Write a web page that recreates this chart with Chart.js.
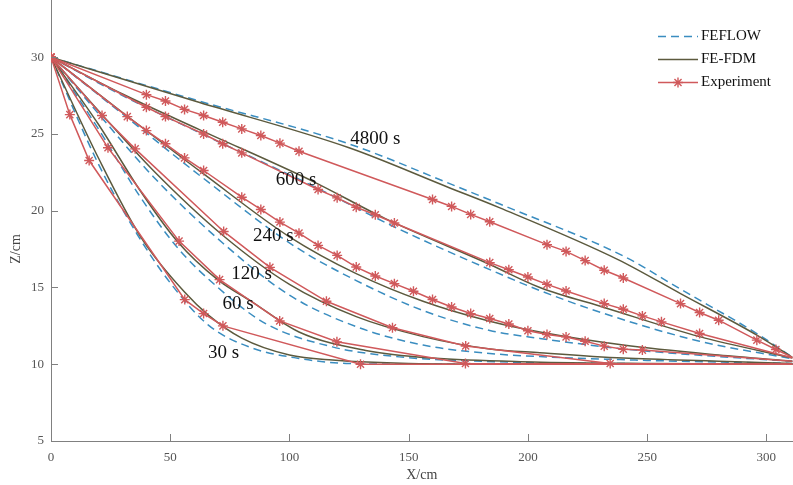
<!DOCTYPE html>
<html>
<head>
<meta charset="utf-8">
<script src="https://cdn.jsdelivr.net/npm/chart.js@4.4.1/dist/chart.umd.min.js"></script>
<style>
    body { margin: 0; background: #fff; overflow: hidden; }
    /* the box is 6px larger than the window so the plot reaches the top and right edges */
    .chart-box { width: 799px; height: 491px; position: relative; margin-top: -6px; }
</style>
</head>
<body>
<div class="chart-box"><canvas id="profileChart"></canvas></div>
<script>
// Time steps
const times = ['30 s', '60 s', '120 s', '240 s', '600 s', '4800 s'];

// Axis ticks
const xTicks = [0, 50, 100, 150, 200, 250, 300];
const zTicks = [5, 10, 15, 20, 25, 30];

// FE-FDM curves, [x, z]
const fdm30 = [[0, 30], [20, 23.4], [38, 18.2], [56, 14.7], [66, 13.2], [80, 11.7], [100, 10.6], [118, 10.27], [150, 10.05], [200, 10.0], [311, 10.0]];
const fdm60 = [[0, 30], [20, 25.6], [37, 21.4], [53, 18.0], [70, 15.5], [84, 14.1], [104, 12.1], [132, 10.9], [160, 10.4], [202, 10.15], [250, 10.05], [311, 10.0]];
const fdm120 = [[0, 30], [20, 26.5], [43, 22.6], [72, 18.4], [100, 15.2], [128, 13.1], [156, 11.8], [184, 11.0], [205, 10.75], [240, 10.4], [280, 10.2], [311, 10.05]];
const fdm240 = [[0, 30], [30, 26.4], [64, 22.4], [100, 18.3], [128, 15.9], [156, 14.1], [184, 12.8], [205, 12.1], [240, 11.25], [280, 10.6], [311, 10.2]];
const fdm600 = [[0, 30], [30, 27.6], [62, 25.3], [110, 21.9], [140, 19.5], [184, 16.5], [205, 15.0], [232, 13.7], [272, 11.8], [311, 10.4]];
const fdm4800 = [[0, 30], [62, 27.06], [125, 24.1], [167, 21.5], [188, 20.2], [238, 16.8], [264, 14.6], [296, 11.9], [311, 10.45]];

// FEFLOW curves, [x, z]
const feflow30 = [[0, 30], [20, 23.0], [36, 18.5], [50, 15.3], [66, 12.55], [83, 11.13], [104, 10.38], [125, 10.05], [160, 10.0], [311, 10.0]];
const feflow60 = [[0, 30], [20, 25.3], [37, 21.0], [53, 17.6], [70, 15.0], [90, 12.65], [118, 11.13], [146, 10.48], [188, 10.16], [250, 10.03], [311, 10.0]];
const feflow120 = [[0, 30], [20, 26.3], [43, 22.2], [72, 17.9], [100, 14.5], [128, 12.45], [156, 11.25], [184, 10.7], [205, 10.5], [250, 10.25], [311, 10.05]];
const feflow240 = [[0, 30], [30, 26.3], [64, 22.1], [102, 17.7], [128, 15.45], [156, 13.5], [184, 12.2], [205, 11.68], [240, 11.0], [280, 10.5], [311, 10.2]];
const feflow600 = [[0, 30], [30, 27.5], [62, 25.1], [110, 21.6], [146, 18.8], [191, 15.7], [205, 14.8], [232, 13.3], [272, 11.5], [311, 10.35]];
const feflow4800 = [[0, 30], [62, 27.15], [125, 24.35], [169, 21.65], [188, 20.45], [240, 17.05], [265, 14.8], [296, 12.0], [311, 10.45]];

// Experiment points, [x, z]
const exp30 = [[0, 30], [7.9, 26.26], [16, 23.27], [56.1, 14.21], [64, 13.3], [72.1, 12.5], [129.8, 10.0], [311, 10.0]];
const exp60 = [[0, 30], [23.9, 24.1], [53.7, 18.02], [70.7, 15.51], [95.9, 12.82], [119.9, 11.46], [173.8, 10.05], [311, 10.0]];
const exp120 = [[0, 30], [21.4, 26.2], [35.3, 24.03], [72.4, 18.65], [91.8, 16.31], [115.5, 14.1], [143.2, 12.38], [173.9, 11.19], [234.5, 10.05], [311, 10.0]];
const exp240 = [[0, 30], [32, 26.13], [40, 25.22], [48, 24.36], [56, 23.44], [64, 22.62], [80, 20.88], [88, 20.08], [96, 19.26], [104, 18.54],
    [112, 17.74], [120, 17.09], [128, 16.33], [136, 15.75], [144, 15.25], [152, 14.75], [160, 14.22], [168, 13.73], [176, 13.3], [184, 12.98],
    [192, 12.62], [200, 12.18], [208, 11.94], [216, 11.78], [224, 11.5], [232, 11.18], [240, 10.98], [248, 10.92], [311, 10.2]];
const exp600 = [[0, 30], [40, 26.74], [48, 26.13], [64, 25.0], [72, 24.36], [80, 23.77], [112, 21.38], [120, 20.84], [128, 20.23], [136, 19.74],
    [144, 19.2], [184, 16.62], [192, 16.16], [200, 15.68], [208, 15.2], [216, 14.77], [232, 13.95], [240, 13.58], [248, 13.15], [256, 12.76],
    [272, 12.0], [311, 10.4]];
const exp4800 = [[0, 30], [40, 27.56], [48, 27.15], [56, 26.6], [64, 26.2], [72, 25.76], [80, 25.33], [88, 24.9], [96, 24.4], [104, 23.87],
    [160, 20.73], [168, 20.28], [176, 19.76], [184, 19.28], [208, 17.79], [216, 17.35], [224, 16.75], [232, 16.12], [240, 15.62],
    [264, 13.95], [272, 13.37], [280, 12.87], [296, 11.57], [304, 10.96], [311, 10.45]];

const fdmSets = [fdm30, fdm60, fdm120, fdm240, fdm600, fdm4800];
const feflowSets = [feflow30, feflow60, feflow120, feflow240, feflow600, feflow4800];
const expSets = [exp30, exp60, exp120, exp240, exp600, exp4800];

// Where the time labels sit (left edge x, middle z)
const labelAt = {
    '30 s': [65.8, 10.74],
    '60 s': [71.9, 13.94],
    '120 s': [75.6, 15.9],
    '240 s': [84.7, 18.33],
    '600 s': [94.2, 21.97],
    '4800 s': [125.5, 24.68]
};

const colors = {
    feflow: '#3a8dc0',
    fdm: '#5c5a3e',
    exp: '#d0595b'
};
const serif = "'Liberation Serif', 'Times New Roman', serif";

const toPoints = arr => arr.map(p => ({ x: p[0], y: p[1] }));

const datasets = [];
times.forEach((t, i) => {
    const n = expSets[i].length;
    datasets.push({
        label: 'Experiment ' + t,
        data: toPoints(expSets[i]),
        showLine: true,
        borderColor: colors.exp,
        borderWidth: 1.5,
        pointStyle: 'star',
        pointRadius: ctx => (ctx.dataIndex === n - 1 ? 0 : 5),
        pointBorderColor: colors.exp,
        pointBackgroundColor: colors.exp,
        pointBorderWidth: 1.4,
        tension: 0
    });
});
times.forEach((t, i) => {
    datasets.push({
        label: 'FE-FDM ' + t,
        data: toPoints(fdmSets[i]),
        showLine: true,
        borderColor: colors.fdm,
        borderWidth: 1.5,
        pointRadius: 0,
        cubicInterpolationMode: 'monotone'
    });
});
times.forEach((t, i) => {
    datasets.push({
        label: 'FEFLOW ' + t,
        data: toPoints(feflowSets[i]),
        showLine: true,
        borderColor: colors.feflow,
        borderWidth: 1.5,
        borderDash: [8, 5],
        pointRadius: 0,
        cubicInterpolationMode: 'monotone'
    });
});

// Ticks pointing into the plot, plus the Z title
const innerTicks = {
    id: 'innerTicks',
    afterDraw(chart) {
        const ctx = chart.ctx;
        const xs = chart.scales.x, ys = chart.scales.y;
        const area = chart.chartArea;
        ctx.save();
        ctx.strokeStyle = '#808080';
        ctx.lineWidth = 1;
        ctx.beginPath();
        xTicks.forEach(v => {
            const px = Math.round(xs.getPixelForValue(v)) + 0.5;
            ctx.moveTo(px, area.bottom);
            ctx.lineTo(px, area.bottom - 7);
        });
        zTicks.forEach(v => {
            const py = Math.round(ys.getPixelForValue(v)) + 0.5;
            ctx.moveTo(area.left, py);
            ctx.lineTo(area.left + 7, py);
        });
        ctx.stroke();

        // y title sits a bit lower than the plot middle, like the original
        ctx.translate(16, 255);
        ctx.rotate(-Math.PI / 2);
        ctx.fillStyle = '#444';
        ctx.font = '14px ' + serif;
        ctx.textAlign = 'center';
        ctx.textBaseline = 'middle';
        ctx.fillText('Z/cm', 0, 0);
        ctx.restore();
    }
};

// Time labels on the curves
const timeLabels = {
    id: 'timeLabels',
    afterDatasetsDraw(chart) {
        const ctx = chart.ctx;
        const xs = chart.scales.x, ys = chart.scales.y;
        ctx.save();
        ctx.fillStyle = '#111';
        ctx.font = '19px ' + serif;
        ctx.textAlign = 'left';
        ctx.textBaseline = 'middle';
        times.forEach(t => {
            const pos = labelAt[t];
            ctx.fillText(t, xs.getPixelForValue(pos[0]), ys.getPixelForValue(pos[1]));
        });
        ctx.restore();
    }
};

// Legend in the top right corner (box is shifted up 6px)
const cornerLegend = {
    id: 'cornerLegend',
    afterDraw(chart) {
        const ctx = chart.ctx;
        const items = [
            { label: 'FEFLOW', color: colors.feflow, dash: [8, 5], star: false },
            { label: 'FE-FDM', color: colors.fdm, dash: [], star: false },
            { label: 'Experiment', color: colors.exp, dash: [], star: true }
        ];
        const x0 = 658, x1 = 698, top = 36 + 6, gap = 23;
        ctx.save();
        items.forEach((item, i) => {
            const y = top + i * gap + 0.5;
            ctx.strokeStyle = item.color;
            ctx.lineWidth = 1.5;
            ctx.setLineDash(item.dash);
            ctx.beginPath();
            ctx.moveTo(x0, y);
            ctx.lineTo(x1, y);
            ctx.stroke();
            ctx.setLineDash([]);
            if (item.star) {
                ctx.lineWidth = 1.4;
                Chart.helpers.drawPoint(ctx, { pointStyle: 'star', radius: 5, borderWidth: 1.4 }, (x0 + x1) / 2, y);
            }
            ctx.fillStyle = '#111';
            ctx.font = '15px ' + serif;
            ctx.textAlign = 'left';
            ctx.textBaseline = 'middle';
            ctx.fillText(item.label, x1 + 3, y);
        });
        ctx.restore();
    }
};

const canvas = document.getElementById('profileChart');
new Chart(canvas.getContext('2d'), {
    type: 'scatter',
    data: { datasets: datasets },
    options: {
        responsive: true,
        maintainAspectRatio: false,
        animation: false,
        layout: { padding: 0 },
        plugins: {
            legend: { display: false },
            tooltip: { enabled: false }
        },
        scales: {
            x: {
                type: 'linear',
                min: 0,
                max: 311,
                afterBuildTicks: s => { s.ticks = xTicks.map(v => ({ value: v })); },
                afterFit: s => { s.height = 44; s.paddingLeft = 0; s.paddingRight = 0; },
                grid: { display: false, drawTicks: false },
                border: { display: true, color: '#808080', width: 1 },
                ticks: { color: '#555', font: { family: serif, size: 13 }, padding: 9, maxRotation: 0 },
                title: { display: true, text: 'X/cm', color: '#444', font: { family: serif, size: 14 }, padding: { top: 0, bottom: 1 } }
            },
            y: {
                type: 'linear',
                min: 5,
                max: 33.7,
                afterBuildTicks: s => { s.ticks = zTicks.map(v => ({ value: v })); },
                afterFit: s => { s.width = 51; s.paddingTop = 0; s.paddingBottom = 0; },
                grid: { display: false, drawTicks: false },
                border: { display: true, color: '#808080', width: 1 },
                ticks: { color: '#555', font: { family: serif, size: 13 }, padding: 7 },
                title: { display: false }
            }
        }
    },
    plugins: [innerTicks, timeLabels, cornerLegend]
});
</script>
</body>
</html>
